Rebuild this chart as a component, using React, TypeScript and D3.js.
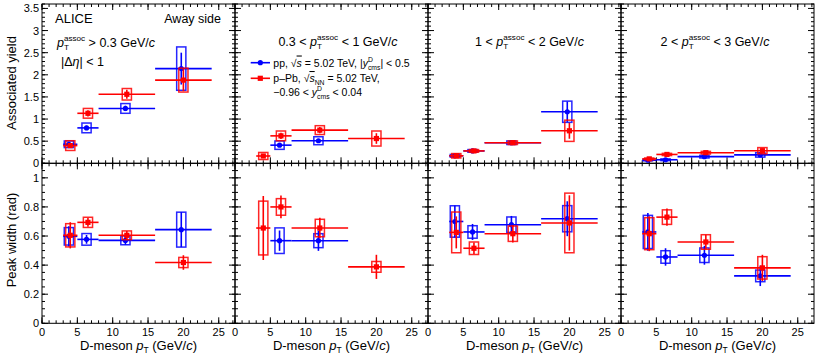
import React from 'react'
import * as d3 from 'd3'

// pT(assoc) ranges, one column each (GeV/c)
const assocLo = [0.3, 0.3, 1, 2]
const assocHi = [null, 1, 2, 3]

// D-meson pT bins and mean pT of the points
const binLo = [3, 5, 8, 16]
const binHi = [5, 8, 16, 24]
const ppPt = [3.8, 6.3, 11.8, 19.7]
const pPbPt = [4.0, 6.5, 12.0, 20.0]

// associated yield, away side
const ppYield = [
  [0.43, 0.8, 1.24, 2.14],
  [null, 0.41, 0.51, null],
  [0.17, 0.28, 0.465, 1.165],
  [0.07, 0.08, 0.15, 0.19]
]
const ppYieldStat = [
  [0.04, 0.05, 0.06, 0.36],
  [null, 0.04, 0.04, null],
  [0.02, 0.02, 0.03, 0.23],
  [0.01, 0.015, 0.02, 0.04]
]
const ppYieldSyst = [
  [0.075, 0.11, 0.11, 0.49],
  [null, 0.095, 0.09, null],
  [0.03, 0.03, 0.04, 0.24],
  [0.015, 0.02, 0.03, 0.05]
]
const pPbYield = [
  [0.4, 1.13, 1.56, 1.88],
  [0.165, 0.62, 0.75, 0.56],
  [0.17, 0.28, 0.465, 0.735],
  [0.1, 0.2, 0.24, 0.285]
]
const pPbYieldStat = [
  [0.04, 0.07, 0.1, 0.25],
  [0.03, 0.07, 0.07, 0.12],
  [0.02, 0.02, 0.03, 0.18],
  [0.015, 0.02, 0.03, 0.05]
]
const pPbYieldSyst = [
  [0.11, 0.11, 0.13, 0.27],
  [0.08, 0.11, 0.1, 0.17],
  [0.05, 0.03, 0.04, 0.24],
  [0.02, 0.025, 0.03, 0.07]
]

// peak width (rad)
const ppWidth = [
  [0.598, 0.577, 0.57, 0.644],
  [null, 0.568, 0.568, null],
  [0.7, 0.628, 0.678, 0.719],
  [0.628, 0.456, 0.468, 0.326]
]
const ppWidthStat = [
  [0.07, 0.03, 0.03, 0.12],
  [null, 0.07, 0.07, null],
  [0.11, 0.055, 0.06, 0.12],
  [0.13, 0.06, 0.065, 0.07]
]
const ppWidthSyst = [
  [0.06, 0.04, 0.03, 0.12],
  [null, 0.088, 0.048, null],
  [0.108, 0.043, 0.053, 0.09],
  [0.114, 0.043, 0.05, 0.04]
]
const pPbWidth = [
  [0.605, 0.694, 0.605, 0.418],
  [0.655, 0.8, 0.655, 0.388],
  [0.625, 0.516, 0.616, 0.69],
  [0.616, 0.73, 0.559, 0.381]
]
const pPbWidthStat = [
  [0.09, 0.03, 0.03, 0.05],
  [0.22, 0.078, 0.07, 0.083],
  [0.11, 0.04, 0.06, 0.19],
  [0.12, 0.06, 0.05, 0.09]
]
const pPbWidthSyst = [
  [0.08, 0.035, 0.03, 0.035],
  [0.185, 0.057, 0.06, 0.037],
  [0.14, 0.043, 0.053, 0.205],
  [0.11, 0.05, 0.05, 0.077]
]

const W = 822
const H = 360
const left = 42
const panelW = 193
const topY = 4
const midY = 163.3
const botY = 323.3
const boxHalf = 0.65
const blue = '#0000ff'
const red = '#ff0000'
const font = "'Liberation Sans', Arial, Helvetica, sans-serif"

// rough Arial advance widths, for stacking sub/superscripts
const cw: Record<string, number> = { a: 0.556, s: 0.5, o: 0.556, c: 0.5, T: 0.611, D: 0.722, m: 0.833, N: 0.722 }
const tw = (s: string, fs: number) => s.split('').reduce((a, ch) => a + (cw[ch] ?? 0.556), 0) * fs

function supSub(base: string, sup: string, sub: string, fs: number, rest: React.ReactNode) {
  const small = fs * 0.65
  const ws = tw(sup, small)
  const wb = tw(sub, small)
  return [
    <tspan key="b" fontStyle="italic">{base}</tspan>,
    <tspan key="p" dy={-0.42 * fs} fontSize={small}>{sup}</tspan>,
    <tspan key="s" dx={-ws} dy={0.72 * fs} fontSize={small}>{sub}</tspan>,
    <tspan key="r" dx={Math.max(0, ws - wb)} dy={-0.3 * fs}>{rest}</tspan>
  ]
}

function sub(base: string, s: string, fs: number, rest: React.ReactNode) {
  return [
    <tspan key="b" fontStyle="italic">{base}</tspan>,
    <tspan key="s" dy={0.3 * fs} fontSize={fs * 0.65}>{s}</tspan>,
    <tspan key="r" dy={-0.3 * fs}>{rest}</tspan>
  ]
}

const sqrtS = (key: string) => (
  <tspan key={key}>
    √<tspan fontStyle="italic" textDecoration="overline">s</tspan>
  </tspan>
)

const gevc = <tspan>GeV/<tspan fontStyle="italic">c</tspan></tspan>

function Series({ x, y, pts, vals, stats, systs, color, square }: any) {
  return (
    <g>
      {vals.map((v: number | null, i: number) => {
        if (v == null) return null
        const cx = x(pts[i])
        const cy = y(v)
        const s = systs[i]
        const e = stats[i]
        return (
          <g key={i}>
            <rect
              x={x(pts[i] - boxHalf)}
              y={y(v + s)}
              width={x(pts[i] + boxHalf) - x(pts[i] - boxHalf)}
              height={y(v - s) - y(v + s)}
              fill="none"
              stroke={color}
              strokeWidth={1.5}
              strokeOpacity={0.85}
            />
            <line x1={x(binLo[i])} x2={x(binHi[i])} y1={cy} y2={cy} stroke={color} strokeWidth={1.6} />
            <line x1={cx} x2={cx} y1={y(v + e)} y2={y(v - e)} stroke={color} strokeWidth={1.6} />
            {square ? (
              <rect x={cx - 2.6} y={cy - 2.6} width={5.2} height={5.2} fill={color} />
            ) : (
              <circle cx={cx} cy={cy} r={2.6} fill={color} />
            )}
          </g>
        )
      })}
    </g>
  )
}

function Frame({ x, y, yMajor, yMinor, showX }: any) {
  const [x0, x1] = x.range()
  const [y0, y1] = y.range()
  const xMajor = x.ticks(6)
  const xMinor = d3.range(0, x.domain()[1], 1)
  return (
    <g stroke="#000" strokeWidth={1}>
      <rect x={x0} y={y1} width={x1 - x0} height={y0 - y1} fill="none" />
      {xMinor.map((t: number) => (
        <g key={'xm' + t}>
          <line x1={x(t)} x2={x(t)} y1={y0} y2={y0 - 3} />
          <line x1={x(t)} x2={x(t)} y1={y1} y2={y1 + 3} />
        </g>
      ))}
      {xMajor.map((t: number) => (
        <g key={'xM' + t}>
          <line x1={x(t)} x2={x(t)} y1={y0} y2={y0 - 6} />
          <line x1={x(t)} x2={x(t)} y1={y1} y2={y1 + 6} />
        </g>
      ))}
      {yMinor.map((t: number) => (
        <g key={'ym' + t}>
          <line x1={x0} x2={x0 + 3} y1={y(t)} y2={y(t)} />
          <line x1={x1} x2={x1 - 3} y1={y(t)} y2={y(t)} />
        </g>
      ))}
      {yMajor.map((t: number) => (
        <g key={'yM' + t}>
          <line x1={x0} x2={x0 + 6} y1={y(t)} y2={y(t)} />
          <line x1={x1} x2={x1 - 6} y1={y(t)} y2={y(t)} />
        </g>
      ))}
      {showX &&
        xMajor.map((t: number) => (
          <text key={'xl' + t} x={x(t)} y={335.5} stroke="none" fill="#000" fontSize={11} textAnchor="middle">
            {t}
          </text>
        ))}
      {showX && (
        <text x={(x0 + x1) / 2} y={349.5} stroke="none" fill="#000" fontSize={13} textAnchor="middle">
          D-meson {sub('p', 'T', 13, <tspan> (GeV/<tspan fontStyle="italic">c</tspan>)</tspan>)}
        </text>
      )}
    </g>
  )
}

export default function App() {
  const yTop = d3.scaleLinear().domain([0, 3.6]).range([midY, topY])
  const yBot = d3.scaleLinear().domain([0, 1.1]).range([botY, midY])
  const topMajor = d3.range(0, 3.51, 0.5)
  const topMinor = d3.range(0, 3.61, 0.1)
  const botMajor = d3.range(0, 1.01, 0.2)
  const botMinor = d3.range(0, 1.101, 0.05)
  const fmt = (v: number) => String(+v.toFixed(2))
  const titleX = [null, 338, 529.5, 715]

  return (
    <svg width={W} height={H} style={{ position: 'absolute', left: 0, top: 0 }} fontFamily={font}>
      <rect width={W} height={H} fill="#fff" />
      {assocLo.map((_, p) => {
        const x = d3.scaleLinear().domain([0, 27.3]).range([left + p * panelW, left + (p + 1) * panelW])
        return (
          <g key={p}>
            <Frame x={x} y={yTop} yMajor={topMajor} yMinor={topMinor} showX={false} />
            <Frame x={x} y={yBot} yMajor={botMajor} yMinor={botMinor} showX={true} />
            <Series x={x} y={yTop} pts={ppPt} vals={ppYield[p]} stats={ppYieldStat[p]} systs={ppYieldSyst[p]} color={blue} />
            <Series x={x} y={yTop} pts={pPbPt} vals={pPbYield[p]} stats={pPbYieldStat[p]} systs={pPbYieldSyst[p]} color={red} square />
            <Series x={x} y={yBot} pts={ppPt} vals={ppWidth[p]} stats={ppWidthStat[p]} systs={ppWidthSyst[p]} color={blue} />
            <Series x={x} y={yBot} pts={pPbPt} vals={pPbWidth[p]} stats={pPbWidthStat[p]} systs={pPbWidthSyst[p]} color={red} square />
          </g>
        )
      })}

      {topMajor.map((t) => (
        <text key={'yt' + t} x={39} y={yTop(t) + 4} fontSize={11} textAnchor="end">
          {fmt(t)}
        </text>
      ))}
      {botMajor.map((t) => (
        <text key={'yb' + t} x={39} y={yBot(t) + 4} fontSize={11} textAnchor="end">
          {fmt(t)}
        </text>
      ))}
      <text transform={`translate(16,83) rotate(-90)`} fontSize={13} textAnchor="middle">
        Associated yield
      </text>
      <text transform={`translate(16,240) rotate(-90)`} fontSize={13} textAnchor="middle">
        Peak width (rad)
      </text>

      {/* first column labels */}
      <text x={55} y={22.7} fontSize={13}>ALICE</text>
      <text x={221} y={22.7} fontSize={12.5} textAnchor="end">Away side</text>
      <text x={57} y={46.5} fontSize={12.5}>
        {supSub('p', 'assoc', 'T', 12.5, <tspan> &gt; {assocLo[0]} {gevc}</tspan>)}
      </text>
      <text x={61} y={66} fontSize={12.5}>
        |Δ<tspan fontStyle="italic">η</tspan>| &lt; 1
      </text>

      {titleX.map((cx, i) =>
        cx ? (
          <text key={'t' + i} x={cx} y={45.7} fontSize={12.5} textAnchor="middle">
            {assocLo[i]} &lt;{' '}
            {supSub('p', 'assoc', 'T', 12.5, <tspan> &lt; {assocHi[i]} {gevc}</tspan>)}
          </text>
        ) : null
      )}

      {/* legend */}
      <line x1={250.7} x2={270} y1={62.7} y2={62.7} stroke={blue} strokeWidth={1.6} />
      <circle cx={260.3} cy={62.7} r={2.6} fill={blue} />
      <line x1={250.7} x2={270} y1={78.3} y2={78.3} stroke={red} strokeWidth={1.6} />
      <rect x={257.7} y={75.7} width={5.2} height={5.2} fill={red} />
      <text x={273.3} y={66.5} fontSize={10.5}>
        pp, {sqrtS('s1')} = 5.02 TeV, |{supSub('y', 'D', 'cms', 10.5, <tspan>| &lt; 0.5</tspan>)}
      </text>
      <text x={273.3} y={82} fontSize={10.5}>
        p–Pb, {sqrtS('s2')}
        {sub('', 'NN', 10.5, <tspan> = 5.02 TeV,</tspan>)}
      </text>
      <text x={273.3} y={95.5} fontSize={10.5}>
        −0.96 &lt; {supSub('y', 'D', 'cms', 10.5, <tspan> &lt; 0.04</tspan>)}
      </text>
    </svg>
  )
}
